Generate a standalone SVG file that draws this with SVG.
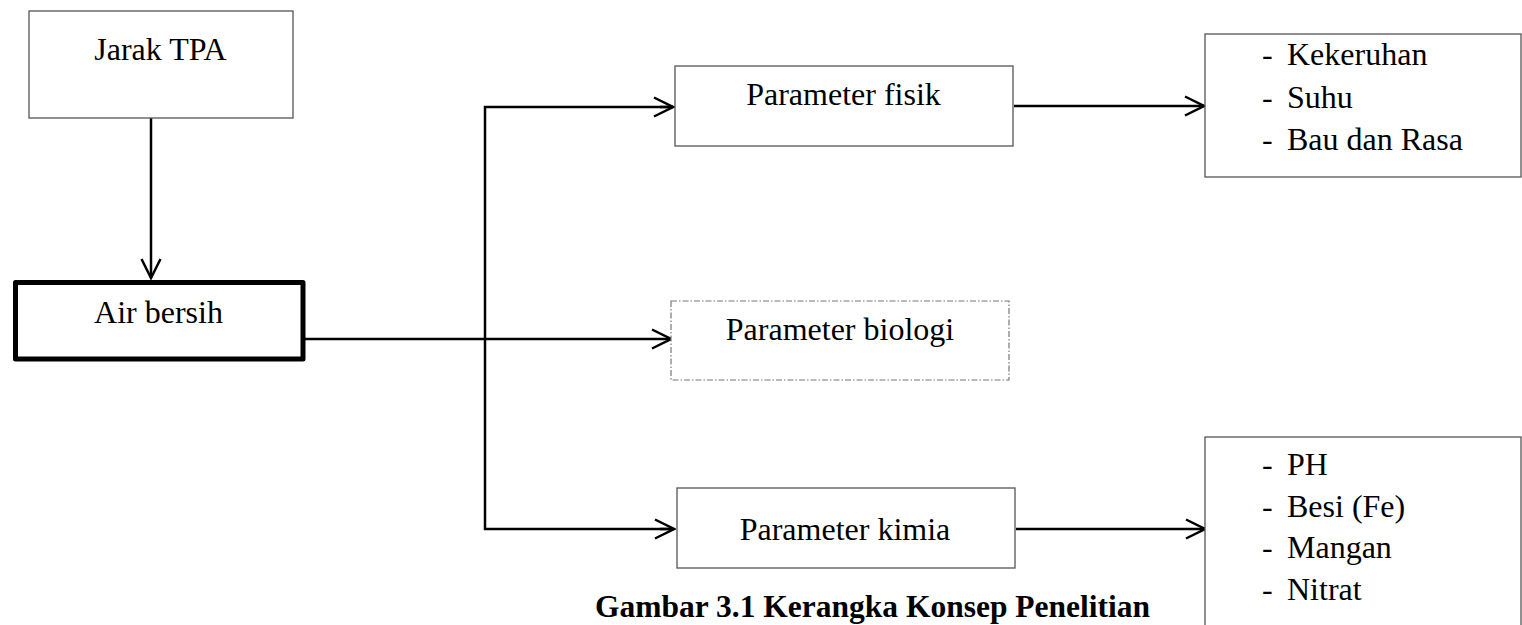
<svg xmlns="http://www.w3.org/2000/svg" width="1522" height="625" viewBox="0 0 1522 625">
  <style>
    .box { fill: #ffffff; stroke: #555555; stroke-width: 1.3; }
    .thick { fill: #ffffff; stroke: #000000; stroke-width: 5; stroke-linejoin: round; }
    .dash { fill: #ffffff; stroke: #777777; stroke-width: 1.2; stroke-dasharray: 6 2 1.5 2; }
    .conn { fill: none; stroke: #000000; stroke-width: 2.5; }
    text { font-family: "Liberation Serif", "Times New Roman", serif; font-size: 32px; fill: #000000; }
    .c { text-anchor: middle; }
    .cap { font-weight: bold; font-size: 31.5px; }
  </style>
  <defs>
    <marker id="arr" viewBox="-22 -12 24 24" refX="0" refY="0" markerWidth="24" markerHeight="24" markerUnits="userSpaceOnUse" orient="auto">
      <path d="M-19,-9.5 L0,0 L-19,9.5" fill="none" stroke="#000000" stroke-width="2.5"/>
    </marker>
  </defs>
  <rect width="1522" height="625" fill="#ffffff"/>

  <g id="connectors">
    <line class="conn" x1="151" y1="118" x2="151" y2="278" marker-end="url(#arr)"/>
    <line class="conn" x1="305" y1="339" x2="671" y2="339" marker-end="url(#arr)"/>
    <polyline class="conn" points="673,107 485,107 485,529 673,529"/>
    <line class="conn" x1="660" y1="107" x2="673" y2="107" marker-end="url(#arr)"/>
    <line class="conn" x1="660" y1="529" x2="674" y2="529" marker-end="url(#arr)"/>
    <line class="conn" x1="1014" y1="106" x2="1204" y2="106" marker-end="url(#arr)"/>
    <line class="conn" x1="1016" y1="529" x2="1205" y2="529" marker-end="url(#arr)"/>
  </g>

  <g id="jarak-tpa">
    <rect class="box" x="29" y="11" width="264" height="107"/>
    <text class="c" x="160.5" y="60">Jarak TPA</text>
  </g>

  <g id="air-bersih">
    <rect class="thick" x="15.5" y="282.5" width="287.5" height="76.5"/>
    <text class="c" x="158.5" y="323">Air bersih</text>
  </g>

  <g id="parameter-fisik">
    <rect class="box" x="675" y="66" width="338" height="80"/>
    <text class="c" x="843.5" y="105">Parameter fisik</text>
  </g>

  <g id="parameter-biologi">
    <rect class="dash" x="671" y="301" width="338" height="79"/>
    <text class="c" x="840" y="340">Parameter biologi</text>
  </g>

  <g id="parameter-kimia">
    <rect class="box" x="677" y="488" width="338" height="80"/>
    <text class="c" x="845" y="540">Parameter kimia</text>
  </g>

  <g id="fisik-list">
    <rect class="box" x="1205" y="34" width="316" height="143"/>
    <text x="1262" y="65">-</text><text x="1287" y="65">Kekeruhan</text>
    <text x="1262" y="108">-</text><text x="1287" y="108">Suhu</text>
    <text x="1262" y="150">-</text><text x="1287" y="150">Bau dan Rasa</text>
  </g>

  <g id="kimia-list">
    <rect class="box" x="1205" y="437" width="316" height="200"/>
    <text x="1262" y="475">-</text><text x="1287" y="475">PH</text>
    <text x="1262" y="517">-</text><text x="1287" y="517">Besi (Fe)</text>
    <text x="1262" y="558">-</text><text x="1287" y="558">Mangan</text>
    <text x="1262" y="600">-</text><text x="1287" y="600">Nitrat</text>
  </g>

  <g id="caption">
    <text class="cap" x="595" y="617">Gambar 3.1 Kerangka Konsep Penelitian</text>
  </g>
</svg>
